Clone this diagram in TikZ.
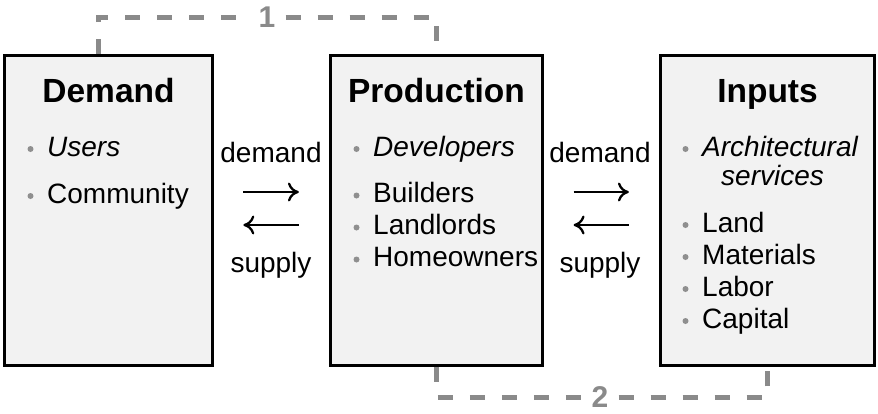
\documentclass[tikz,border=0pt]{standalone}
\usepackage{fontspec}
\setmainfont{Liberation Sans}
\usetikzlibrary{arrows.meta,positioning}

\definecolor{boxfill}{HTML}{F2F2F2}
\definecolor{dashgray}{HTML}{8A8A8A}
\definecolor{dotgray}{HTML}{8F8F8F}

\tikzset{
  sector/.style={draw, line width=2.7pt, fill=boxfill, minimum height=310pt, inner sep=0pt},
  head/.style={font=\fontsize{33.5}{38}\selectfont\bfseries, anchor=base, inner sep=0pt},
  item/.style={font=\fontsize{28}{32}\selectfont, anchor=base west, inner sep=0pt},
  flowlabel/.style={font=\fontsize{28}{32}\selectfont, anchor=base, inner sep=0pt},
  flow/.style={line width=2.3pt, -{To[length=11pt,width=19pt]}},
  link/.style={draw=dashgray, line width=5pt, dash pattern=on 15pt off 17pt},
  linklabel/.style={font=\fontsize{30}{32}\selectfont\bfseries, text=dashgray, fill=white, inner xsep=10pt, inner ysep=0pt},
}

\begin{document}
\begin{tikzpicture}[x=1pt,y=-1pt]
\useasboundingbox (0,0) rectangle (878,413);

% the three sectors
\node (dem) at (108.5,210.5) [sector, minimum width=208pt] {};
\node (prod) at (436.5,210.5) [sector, minimum width=212.5pt] {};
\node (inp) at (767.5,210.5) [sector, minimum width=214.5pt] {};

\node (demt) at (108.5,102) [head] {Demand};
\node (prodt) at (436.5,102) [head] {Production};
\node (inpt) at (767.5,102) [head] {Inputs};

% lists
\node (d1) at (47,156) [item] {\textit{Users}};
\node (d2) at (47,203) [item] {Community};

\node (p1) at (373,156) [item] {\textit{Developers}};
\node (p2) at (373,202.5) [item] {Builders};
\node (p3) at (373,234.5) [item] {Landlords};
\node (p4) at (373,266.5) [item] {Homeowners};

\node (i1) at (702,156) [item] {\textit{Architectural}};
\node (i1b) at (721,185) [item] {\textit{services}};
\node (i2) at (702,232) [item] {Land};
\node (i3) at (702,264) [item] {Materials};
\node (i4) at (702,296) [item] {Labor};
\node (i5) at (702,328) [item] {Capital};

\foreach \n in {d1,d2,p1,p2,p3,p4,i1,i2,i3,i4,i5}
  \fill[dotgray] ([xshift=-16.5pt,yshift=7pt]\n.base west) circle (3pt);

% flows between sectors
\node (dd1) at (271,162) [flowlabel] {demand};
\node (ss1) at (271,272) [flowlabel] {supply};
\draw[flow, shorten <=29.5pt, shorten >=30pt] ([yshift=18.5pt]dem.east) -- ([yshift=18.5pt]prod.west);
\draw[flow, shorten <=30pt, shorten >=29.5pt] ([yshift=-14.5pt]prod.west) -- ([yshift=-14.5pt]dem.east);

\node (dd2) at (600,162) [flowlabel] {demand};
\node (ss2) at (600,272) [flowlabel] {supply};
\draw[flow, shorten <=29.5pt, shorten >=30pt] ([yshift=18.5pt]prod.east) -- ([yshift=18.5pt]inp.west);
\draw[flow, shorten <=30pt, shorten >=29.5pt] ([yshift=-14.5pt]inp.west) -- ([yshift=-14.5pt]prod.east);

% numbered links
\node (n1) at (267,17) [linklabel] {1};
\node (n2) at (600,397.5) [linklabel] {2};
\draw[link] ([xshift=-10pt]dem.north) |- (n1) -| (prod.north);
\draw[link] (prod.south) |- (n2) -| (inp.south);
\end{tikzpicture}
\end{document}
